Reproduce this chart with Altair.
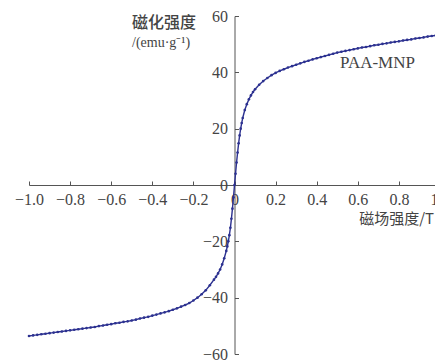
import altair as alt
import pandas as pd

# Magnetization curve of PAA-MNP
field_pos = [0.000, 0.005, 0.010, 0.015, 0.020, 0.025, 0.030, 0.035, 0.040, 0.050,
             0.060, 0.070, 0.080, 0.090, 0.100, 0.120, 0.140, 0.160, 0.180, 0.200,
             0.220, 0.240, 0.260, 0.280, 0.300, 0.320, 0.340, 0.360, 0.380, 0.400,
             0.420, 0.440, 0.460, 0.480, 0.500, 0.520, 0.540, 0.560, 0.580, 0.600,
             0.620, 0.640, 0.660, 0.680, 0.700, 0.720, 0.740, 0.760, 0.780, 0.800,
             0.820, 0.840, 0.860, 0.880, 0.900, 0.920, 0.940, 0.960, 0.980, 1.000]
mag_pos = [0.0, 4.0, 8.0, 11.5, 14.8, 17.6, 20.0, 22.0, 23.8, 26.6,
           28.7, 30.4, 31.8, 33.0, 34.0, 35.6, 36.9, 38.0, 39.0, 39.8,
           40.5, 41.1, 41.7, 42.2, 42.7, 43.2, 43.7, 44.1, 44.6, 45.0,
           45.4, 45.8, 46.2, 46.6, 47.0, 47.3, 47.6, 47.9, 48.2, 48.5,
           48.8, 49.0, 49.3, 49.6, 49.8, 50.1, 50.3, 50.6, 50.8, 51.0,
           51.3, 51.5, 51.7, 52.0, 52.2, 52.4, 52.7, 52.9, 53.1, 53.3]

field_neg = [-1.00, -0.98, -0.96, -0.94, -0.92, -0.90, -0.88, -0.86, -0.84, -0.82,
             -0.80, -0.78, -0.76, -0.74, -0.72, -0.70, -0.68, -0.66, -0.64, -0.62,
             -0.60, -0.58, -0.56, -0.54, -0.52, -0.50, -0.48, -0.46, -0.44, -0.42,
             -0.40, -0.38, -0.36, -0.34, -0.32, -0.30, -0.28, -0.26, -0.24, -0.22,
             -0.20, -0.18, -0.16, -0.14, -0.12, -0.10, -0.09, -0.08, -0.07, -0.06,
             -0.05, -0.04, -0.035, -0.03, -0.025, -0.02, -0.015, -0.01, -0.005]
mag_neg = [-53.6, -53.4, -53.2, -53.0, -52.8, -52.6, -52.4, -52.2, -52.0, -51.8,
           -51.6, -51.4, -51.2, -51.0, -50.8, -50.6, -50.4, -50.1, -49.9, -49.6,
           -49.4, -49.1, -48.9, -48.6, -48.4, -48.1, -47.8, -47.4, -47.1, -46.8,
           -46.4, -46.0, -45.6, -45.2, -44.8, -44.3, -43.8, -43.2, -42.6, -41.9,
           -41.0, -40.0, -38.8, -37.4, -35.6, -33.6, -32.6, -31.4, -30.0, -28.2,
           -26.0, -23.4, -21.8, -20.0, -17.8, -15.2, -12.0, -8.4, -4.4]

x_ticks = [-1.0, -0.8, -0.6, -0.4, -0.2, 0.0, 0.2, 0.4, 0.6, 0.8, 1.0]
y_ticks = [-60, -40, -20, 0, 20, 40, 60]

series_label = "PAA-MNP"
y_title_1 = "磁化强度"
y_title_2 = "/(emu·g⁻¹)"
x_title = "磁场强度/T"

df = pd.DataFrame({"field": field_neg + field_pos, "mag": mag_neg + mag_pos})

W, H = 411, 338
curve_color = "#2c3190"
axis_color = "#555555"
label_color = "#444444"
serif = "Liberation Serif"
cjk = "Noto Sans CJK SC"

x_enc = alt.X(
    "field:Q",
    scale=alt.Scale(domain=[-1.0, 1.0], nice=False, zero=False),
    axis=alt.Axis(
        orient="top", offset=-H / 2, values=x_ticks, title=None, grid=False,
        tickSize=4, labelPadding=-10, labelBaseline="top",
        labelExpr="datum.value == 0 ? '0' : format(datum.value, '.1f')",
        labelFont=serif, labelFontSize=16, labelColor=label_color,
        domainColor=axis_color, tickColor=axis_color, labelFlush=False,
        labelOverlap=False, labelBound=False,
    ),
)
y_enc = alt.Y(
    "mag:Q",
    scale=alt.Scale(domain=[-60, 60], nice=False),
    axis=alt.Axis(
        orient="right", offset=-W / 2, values=y_ticks, title=None, grid=False,
        tickSize=4, labelPadding=-11, labelAlign="right", labelBaseline="middle",
        labelFont=serif, labelFontSize=16, labelColor=label_color,
        domainColor=axis_color, tickColor=axis_color, labelFlush=False,
        labelOverlap=False, labelBound=False,
    ),
)

base = alt.Chart(df)
line = base.mark_line(color=curve_color, strokeWidth=1.4).encode(x=x_enc, y=y_enc)
dots = base.mark_circle(color=curve_color, size=7, opacity=1).encode(x="field:Q", y="mag:Q")

def note(text, x, y, font, size, align="left", weight="normal"):
    return alt.Chart(pd.DataFrame({"t": [text]})).mark_text(
        font=font, fontSize=size, color=label_color, align=align, baseline="middle",
        fontWeight=weight,
    ).encode(text="t:N", x=alt.value(x), y=alt.value(y))

t1 = note(y_title_1, 103, 7, cjk, 16, weight=500)
t2 = note(y_title_2, 103, 27, serif, 14)
t3 = note(x_title, 405, 203, cjk, 15, align="right")
t4 = note(series_label, 311, 47, serif, 17)

chart = alt.layer(line, dots, t1, t2, t3, t4).properties(
    width=W, height=H,
    padding={"left": 21, "top": 8, "right": -5, "bottom": 8},
    autosize="none",
).configure_view(stroke=None)

chart.save("out.html", embed_options={"renderer": "svg", "actions": False})
